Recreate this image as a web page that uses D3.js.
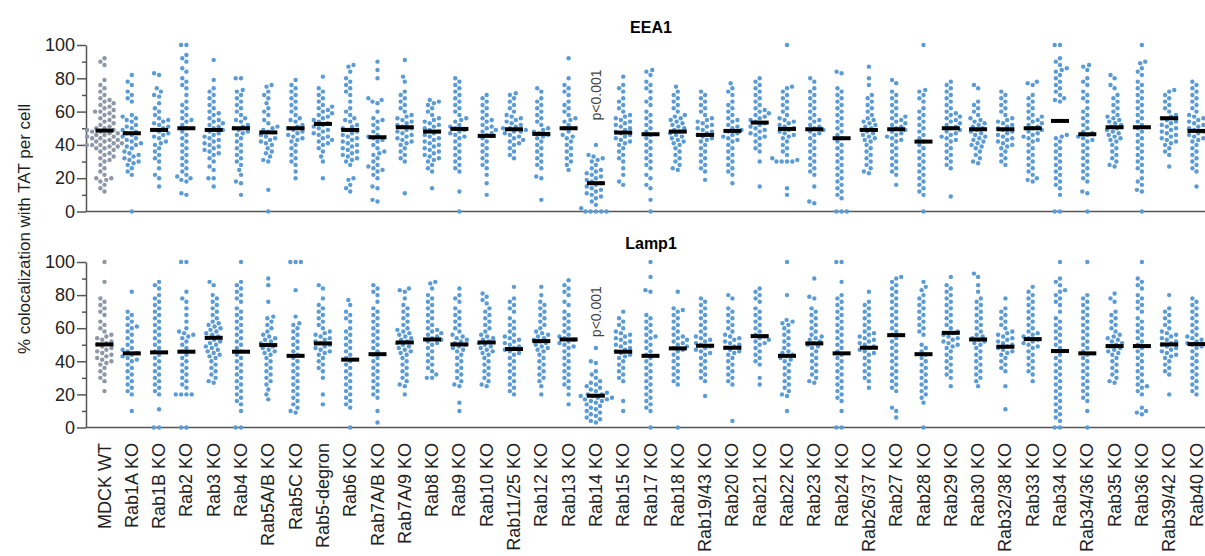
<!doctype html>
<html>
<head>
<meta charset="utf-8">
<script src="https://cdn.jsdelivr.net/npm/d3@7"></script>
<style>
  body { margin: 0; background: #fff; }
  text { font-family: Arial, "Liberation Sans", sans-serif; }
</style>
</head>
<body>
<svg id="chart" width="1205" height="556"></svg>
<script>
// categories along the x axis
var categories = ["MDCK WT","Rab1A KO","Rab1B KO","Rab2 KO","Rab3 KO","Rab4 KO","Rab5A/B KO","Rab5C KO","Rab5-degron","Rab6 KO",
  "Rab7A/B KO","Rab7A/9 KO","Rab8 KO","Rab9 KO","Rab10 KO","Rab11/25 KO","Rab12 KO","Rab13 KO","Rab14 KO","Rab15 KO",
  "Rab17 KO","Rab18 KO","Rab19/43 KO","Rab20 KO","Rab21 KO","Rab22 KO","Rab23 KO","Rab24 KO","Rab26/37 KO","Rab27 KO",
  "Rab28 KO","Rab29 KO","Rab30 KO","Rab32/38 KO","Rab33 KO","Rab34 KO","Rab34/36 KO","Rab35 KO","Rab36 KO","Rab39/42 KO","Rab40 KO"];

// EEA1 panel, % colocalization per cell
var eea1Values = [
  [92,90,88,79,76,74,72,70,68,67,66,65,64,63,62,61,60,60,59,58,57,56,55,54,53,52,51,50,50,49,49,48,48,47,47,46,46,45,45,44,44,43,43,42,42,41,41,40,40,40,39,39,38,38,37,36,35,34,33,32,31,30,28,26,24,22,20,20,19,18,16,14,12],
  [82,78,76,72,70,68,66,58,57,56,55,54,52,51,50,49,48,47,46,45,44,43,42,41,40,39,38,36,35,34,33,32,31,30,29,28,26,24,22,0],
  [83,82,74,72,70,69,65,62,60,58,56,55,54,53,52,51,50,49,48,47,46,45,44,42,41,40,38,36,34,32,30,26,22,20,15],
  [100,100,94,92,90,86,84,80,78,76,74,70,66,64,62,60,58,56,55,54,52,50,48,46,44,42,40,38,36,34,32,30,28,26,24,22,21,20,19,18,11,10],
  [91,79,74,72,70,68,66,64,62,60,59,58,56,55,54,53,52,51,50,49,48,47,46,45,44,43,42,41,40,39,38,37,36,35,34,32,30,27,25,20,20,15],
  [80,80,73,72,70,68,66,64,62,60,58,56,55,54,52,51,50,49,48,47,46,44,42,40,38,36,34,32,30,28,25,22,18,17,10],
  [76,75,72,70,68,65,62,60,58,55,53,51,50,49,48,46,45,44,43,42,41,40,38,36,35,33,31,30,13,0],
  [79,76,74,72,70,68,66,64,62,60,58,56,55,54,52,51,50,49,48,47,46,45,44,43,42,40,38,36,34,32,30,28,24,20],
  [81,74,72,70,68,66,64,63,62,61,60,59,58,57,56,55,54,53,52,51,50,49,48,47,46,45,44,43,42,41,40,38,36,33,30,20],
  [88,87,84,80,78,76,74,72,70,66,62,60,58,56,55,54,52,51,50,49,48,47,46,45,44,43,42,41,40,39,38,37,36,35,34,33,32,31,30,28,20,19,16,14,12],
  [90,85,80,68,67,66,65,60,56,55,54,52,50,48,46,45,44,43,42,40,38,36,35,34,32,30,28,27,26,25,24,22,20,15,14,7,6],
  [91,81,78,72,70,68,66,64,62,60,58,57,56,55,54,53,52,51,50,49,48,47,46,45,44,43,42,41,40,38,36,34,32,30,11],
  [67,66,65,64,62,60,58,56,55,54,53,52,51,50,49,48,47,46,45,44,43,42,41,40,39,38,37,36,35,34,33,32,31,30,28,26,24,14],
  [80,78,76,74,72,70,68,66,64,62,60,58,56,55,54,52,51,50,49,48,47,46,45,44,42,40,38,36,34,32,30,28,26,24,12,0],
  [70,68,66,64,62,60,58,56,55,54,52,51,50,49,48,47,46,44,42,40,38,36,34,32,30,28,26,22,17,10],
  [71,70,68,66,64,62,60,58,57,56,55,54,53,52,51,50,50,49,48,48,47,46,45,44,43,42,41,40,38,36,34,32],
  [74,72,68,66,64,62,60,58,56,54,52,50,49,48,47,46,45,44,42,40,38,36,34,32,30,28,26,21,20,7],
  [92,80,76,74,72,70,66,64,62,60,58,56,55,54,52,50,48,46,45,44,42,40,38,36,34,32,30,28,25],
  [40,34,33,32,31,30,28,26,25,24,23,22,21,20,19,18,17,16,15,14,13,12,11,10,9,8,6,4,2,0,0,0,0,0],
  [81,76,74,72,68,66,64,62,60,58,57,56,55,54,53,52,51,50,49,48,47,46,45,44,43,42,41,40,38,36,34,32,30,26,22,18,16],
  [85,84,82,78,76,74,72,68,66,64,60,58,56,54,52,50,48,46,44,42,40,38,36,34,32,30,28,26,22,20,16,14,7,0],
  [75,72,70,68,66,64,62,60,58,57,56,55,54,53,52,51,50,49,48,47,46,45,44,43,42,41,40,38,36,34,32,30,28,26,25],
  [72,70,68,66,64,62,60,58,56,55,54,53,52,51,50,49,48,47,46,45,44,43,42,40,38,36,34,32,30,28,26,24,19],
  [77,74,72,70,66,64,62,60,58,56,55,54,52,51,50,49,48,47,46,45,44,43,42,40,38,36,34,32,30,28,26,24,22,17],
  [80,78,76,74,72,70,68,66,64,62,61,60,59,58,57,56,55,54,53,52,51,50,49,48,47,46,45,44,42,40,38,36,30,15],
  [100,75,74,72,70,68,66,64,62,60,58,56,55,54,53,52,51,50,49,48,47,46,45,44,42,40,38,36,34,32,31,30,30,30,30,14,10],
  [80,78,74,72,70,68,66,64,62,60,58,56,55,54,52,51,50,49,48,47,46,44,42,40,38,36,34,32,30,28,26,24,22,15,6,5],
  [84,83,74,72,70,68,66,64,62,60,58,56,54,52,50,48,46,44,42,40,38,36,34,32,30,28,26,24,22,20,18,16,14,12,10,8,0,0,0],
  [87,80,76,70,68,66,64,62,60,58,56,55,54,53,52,51,50,49,48,47,46,45,44,43,42,40,38,36,34,32,30,28,26,24,23],
  [79,77,72,70,68,66,64,62,60,58,57,56,55,54,53,52,51,50,49,48,47,46,45,44,43,42,40,38,36,34,32,30,28,26,24,22,16],
  [100,73,72,70,68,66,62,60,58,56,54,52,50,48,46,44,42,40,38,36,34,32,30,28,26,24,22,20,18,16,14,12,10,0],
  [78,76,74,72,70,68,66,64,62,60,59,58,57,56,55,54,53,52,51,50,49,48,47,46,45,44,43,42,40,38,36,34,32,30,28,26,9],
  [76,74,66,64,62,60,58,56,55,54,53,52,51,50,49,48,47,46,45,44,43,42,41,40,39,38,36,34,32,30,29],
  [72,70,68,66,64,62,60,58,56,55,54,53,52,51,50,49,48,47,46,45,44,43,42,41,40,39,38,36,34,32,30,28],
  [78,77,76,70,68,66,64,62,60,58,57,56,55,54,53,52,51,50,49,48,47,46,45,44,43,42,40,38,36,34,32,30,28,26,24,22,20,19,18],
  [100,100,92,90,88,86,85,84,82,80,78,76,74,72,70,68,67,66,46,45,44,42,40,38,36,34,32,30,28,26,24,22,20,18,16,14,10,0,0],
  [88,87,85,80,78,76,72,70,68,66,62,60,58,56,54,52,50,48,47,46,45,44,43,42,40,38,36,34,32,30,28,26,24,22,20,18,12,11,0],
  [82,80,76,74,70,68,66,64,62,60,58,57,56,55,54,53,52,51,50,49,48,47,46,45,44,43,42,40,38,36,34,32,30,28,27],
  [100,90,89,86,84,82,78,76,74,72,70,68,66,64,62,60,58,56,54,52,50,48,46,44,42,40,38,36,34,32,30,28,26,24,20,18,16,13,12,0],
  [73,72,70,68,66,64,62,60,58,57,56,55,54,53,52,51,50,49,48,47,46,45,44,43,42,41,40,38,36,34,27],
  [78,76,74,72,70,68,66,64,62,60,58,57,56,55,54,53,52,51,50,49,48,47,46,45,44,43,42,40,38,36,34,32,30,28,26,24,15]
];
var eea1Medians = [48.6,47,49,50,49,50,47.5,50,52.6,49,44.6,50.6,48,49.6,45.4,49.4,46.6,50,17,47.4,46.4,48,46,48.4,53.4,49.6,49.4,44,49,49.4,
  42,50,49.4,49.4,50,54.4,46.4,50.6,50.6,56,48.4];

// Lamp1 panel
var lamp1Values = [
  [100,88,78,76,74,72,70,68,64,62,60,58,56,55,54,53,52,51,50,49,48,47,46,45,44,43,42,41,40,39,38,36,34,32,30,28,22],
  [82,70,68,66,64,62,61,60,58,56,54,52,50,48,47,46,45,44,43,42,41,40,38,36,34,32,30,28,26,24,22,20,10],
  [88,86,84,80,78,76,74,72,70,68,66,64,62,60,58,56,54,52,50,48,46,44,42,40,38,36,34,32,30,28,26,24,22,20,11,0,0],
  [100,100,82,78,76,72,68,64,60,58,57,56,55,54,52,50,48,46,44,42,40,38,36,34,32,30,28,26,24,20,20,20,20,0,0],
  [88,86,80,78,76,74,72,70,68,66,64,63,62,61,60,59,58,57,56,55,54,53,52,51,50,49,48,47,46,45,44,43,42,40,38,36,34,32,30,28,27],
  [100,88,86,84,82,80,78,76,72,70,68,66,64,62,60,58,56,54,52,50,48,46,44,42,40,38,36,34,32,30,28,26,24,22,20,18,16,14,10,0,0],
  [90,86,76,67,66,64,62,60,58,56,55,54,53,52,51,50,49,48,47,46,45,44,42,40,38,36,34,32,30,28,26,23,20,17],
  [100,100,100,83,67,63,62,60,58,56,54,52,50,48,46,44,42,40,38,36,34,32,30,28,26,24,22,20,18,16,14,12,10,9],
  [86,84,78,74,72,70,68,66,64,62,60,58,57,56,55,54,53,52,51,50,49,48,47,46,45,44,42,40,38,36,34,30,20,14],
  [77,74,70,68,66,64,60,58,56,54,52,50,48,46,44,42,40,38,36,34,32,30,28,26,24,22,20,18,16,14,12,0],
  [86,84,82,80,76,72,70,68,66,64,62,60,58,56,54,52,50,48,46,44,42,40,38,36,34,32,30,28,26,24,22,20,18,10,3],
  [84,83,82,78,74,72,70,68,66,64,62,60,59,58,57,56,55,54,53,52,51,50,49,48,47,46,45,44,42,40,38,36,34,32,30,28,26,25,20],
  [88,87,84,80,78,76,74,72,70,68,66,64,62,60,59,58,57,56,55,54,53,52,51,50,48,46,44,42,40,38,36,34,32,30,30],
  [84,80,78,76,72,70,68,66,64,62,60,58,56,55,54,53,52,51,50,49,48,47,46,44,42,40,38,36,34,32,30,28,26,25,15,10],
  [81,79,77,75,72,70,68,66,64,62,60,58,56,55,54,53,52,51,50,49,48,47,46,45,44,42,40,38,36,34,32,30,28,26,25],
  [85,78,76,74,72,70,66,64,62,60,58,56,55,54,53,52,51,50,49,48,47,46,45,44,42,40,38,36,34,32,30,28,26,24,22,20],
  [85,80,76,74,72,70,68,66,64,62,60,58,57,56,55,54,53,52,51,50,49,48,47,46,44,42,40,38,36,34,32,30,28,25,20],
  [89,86,84,82,80,76,74,70,68,66,64,62,60,58,56,55,54,53,52,51,50,49,48,46,44,42,40,38,36,34,32,30,28,26,24,20,14],
  [48,40,39,34,32,30,28,27,26,25,24,23,22,21,20,20,19,19,18,18,17,17,16,16,15,14,13,12,11,10,9,8,7,6,5,4,3],
  [70,66,64,62,60,58,57,56,55,54,53,52,51,50,49,48,47,46,45,44,43,42,40,38,36,34,32,30,28,16,10],
  [100,91,83,82,68,66,64,62,60,58,56,55,54,52,50,48,46,44,42,40,38,36,34,32,30,28,26,24,22,20,18,16,14,12,10,0],
  [82,72,71,70,68,66,64,62,60,58,56,55,54,53,52,51,50,49,48,47,46,44,42,40,38,36,34,32,30,28,26,0],
  [78,76,74,72,70,68,66,64,62,60,58,56,55,54,53,52,51,50,49,48,47,46,45,44,42,40,38,36,34,32,30,28,19],
  [80,78,72,70,68,66,64,62,60,58,56,55,54,53,52,51,50,49,48,47,46,45,44,42,40,38,36,34,32,30,28,26,4],
  [84,82,80,78,76,72,70,68,66,64,62,60,58,56,55,54,53,52,51,50,48,46,44,42,40,38,30,26],
  [100,80,65,64,63,62,60,58,56,54,52,50,48,46,45,44,43,42,41,40,38,36,34,32,30,28,26,24,22,20,19,10],
  [90,79,78,72,70,68,66,64,62,60,58,56,55,54,53,52,51,50,49,48,46,44,42,40,38,36,34,32,30,28,27],
  [100,100,88,80,78,76,74,72,70,68,66,64,62,60,58,56,54,52,50,48,46,44,42,40,38,36,34,32,30,28,26,24,22,20,18,16,10,0,0],
  [82,76,74,72,70,68,66,64,62,60,58,57,56,55,54,53,52,51,50,49,48,47,46,45,44,42,40,38,36,34,32,30,28,24],
  [91,90,88,86,84,82,80,78,76,74,72,70,68,66,64,62,60,58,56,54,52,50,48,46,44,42,40,38,36,34,32,30,28,26,24,22,12,10,6],
  [88,85,83,80,78,76,74,72,70,68,66,64,62,60,58,56,50,48,46,44,42,40,38,36,34,32,30,28,26,24,22,20,18,15,0],
  [91,86,84,82,80,78,76,74,72,70,68,66,64,62,60,58,57,56,55,54,53,52,51,50,49,48,46,44,42,40,38,36,34,32,30,25],
  [93,91,86,82,78,76,74,72,70,68,66,64,62,60,58,56,55,54,53,52,51,50,48,46,44,42,40,38,36,34,32,30,28,25],
  [78,72,70,68,66,64,62,60,58,57,56,55,54,53,52,51,50,49,48,47,46,45,44,42,40,38,36,34,25,11],
  [85,82,80,78,76,74,72,70,68,66,64,62,60,58,57,56,55,54,53,52,51,50,49,48,46,44,42,40,38,36,34,32,28],
  [100,90,88,86,83,82,80,78,76,74,70,66,64,62,60,58,56,54,52,50,48,46,44,42,40,38,36,34,32,30,28,26,24,22,20,18,16,14,12,10,8,6,4,0,0],
  [100,80,78,76,74,72,70,68,66,64,62,60,58,56,54,52,50,48,46,44,42,40,38,36,34,32,30,28,26,24,22,20,18,16,10,0],
  [81,78,76,70,68,66,64,62,60,58,56,55,54,53,52,51,50,49,48,47,46,45,44,42,40,38,36,34,32,30,28,27],
  [100,90,88,86,84,80,78,76,74,72,70,66,64,62,60,58,56,54,52,50,48,46,44,42,40,38,36,34,32,30,28,26,25,24,22,20,12,10,9,8],
  [80,72,70,68,66,64,62,60,58,57,56,55,54,53,52,51,50,49,48,47,46,45,44,43,42,40,38,36,34,32,20],
  [78,76,74,72,70,68,66,64,62,60,58,56,55,54,53,52,51,50,49,48,46,44,42,40,38,36,34,32,30,28,26,24,22,20]
];
var lamp1Medians = [50.2,44.8,45.4,45.8,54.2,45.8,49.8,43.3,50.8,41,44.3,51.4,53.2,50.2,51.4,47.4,52.2,53.2,19.2,45.8,43.3,47.8,49.4,48.2,55.2,43.3,50.8,44.8,48.2,55.8,
  44.3,57.2,53.2,48.8,53.4,46.2,44.8,49.2,49.2,50.2,50.4];

var panelTitles = ["EEA1", "Lamp1"];
var yMajorTicks = [0, 20, 40, 60, 80, 100];
var yMinorTicks = [10, 30, 50, 70, 90];
var pLabel = "p<0.001";
var pCategory = "Rab14 KO";

var svg = d3.select("#chart");
var axisX = 86;
var dotR = 2.2;
var dotGap = 5.3;
var blue = "#5b9bd5";
var gray = "#8e97a8";

var x = d3.scalePoint().domain(categories).range([104.5, 1196.5]);

var panels = [
  { title: panelTitles[0], values: eea1Values, medians: eea1Medians, y: d3.scaleLinear().domain([0, 100]).range([211.5, 45]), titleY: 33 },
  { title: panelTitles[1], values: lamp1Values, medians: lamp1Medians, y: d3.scaleLinear().domain([0, 100]).range([427.5, 262]), titleY: 249 }
];

// simple beeswarm: each point takes the smallest horizontal offset that does not overlap
function swarm(vals, y) {
  var pts = vals.slice().sort(function(a, b) { return a - b; })
    .map(function(v) { return { v: v, y: y(v), x: 0 }; });
  var placed = [];
  pts.forEach(function(p) {
    var blocked = [];
    placed.forEach(function(q) {
      var dy = Math.abs(q.y - p.y);
      if (dy < dotGap) {
        var w = Math.sqrt(dotGap * dotGap - dy * dy);
        blocked.push([q.x - w, q.x + w]);
      }
    });
    var cands = [0];
    blocked.forEach(function(b) { cands.push(b[0], b[1]); });
    cands.sort(function(a, b) { return Math.abs(a) - Math.abs(b) || a - b; });
    for (var i = 0; i < cands.length; i++) {
      var c = cands[i];
      var ok = blocked.every(function(b) { return c <= b[0] + 1e-6 || c >= b[1] - 1e-6; });
      if (ok) { p.x = c; break; }
    }
    placed.push(p);
  });
  return pts;
}

panels.forEach(function(panel) {
  var g = svg.append("g");
  var y = panel.y;

  // y axis with major and minor ticks
  var yAxis = g.append("g").attr("transform", "translate(" + axisX + ",0)")
    .call(d3.axisLeft(y).tickValues(yMajorTicks).tickSize(9).tickSizeOuter(0).tickPadding(2));
  yAxis.selectAll("text").style("font-size", "18px").attr("fill", "#222");
  yAxis.select(".domain").attr("stroke", "#555").attr("stroke-width", 1.5);
  yAxis.selectAll(".tick line").attr("stroke", "#555").attr("stroke-width", 1.5);

  var yMinor = g.append("g").attr("transform", "translate(" + axisX + ",0)")
    .call(d3.axisLeft(y).tickValues(yMinorTicks).tickSize(4).tickFormat(""));
  yMinor.select(".domain").remove();
  yMinor.selectAll(".tick line").attr("stroke", "#555").attr("stroke-width", 1.5);

  // x baseline
  g.append("line")
    .attr("x1", axisX).attr("x2", 1205)
    .attr("y1", y(0)).attr("y2", y(0))
    .attr("stroke", "#555").attr("stroke-width", 1.5);

  // dots
  categories.forEach(function(cat, i) {
    var pts = swarm(panel.values[i], y);
    g.append("g").selectAll("circle").data(pts).enter().append("circle")
      .attr("cx", function(d) { return x(cat) + d.x; })
      .attr("cy", function(d) { return d.y; })
      .attr("r", dotR)
      .attr("fill", i === 0 ? gray : blue);
  });

  // median bars
  g.append("g").selectAll("rect").data(panel.medians).enter().append("rect")
    .attr("x", function(d, i) { return x(categories[i]) - 9; })
    .attr("y", function(d) { return y(d) - 2; })
    .attr("width", 18).attr("height", 4)
    .attr("fill", "#000");

  // panel title
  g.append("text")
    .attr("x", 651).attr("y", panel.titleY)
    .attr("text-anchor", "middle")
    .style("font-size", "16px").style("font-weight", "bold")
    .text(panel.title);

  // significance note
  g.append("text")
    .attr("transform", "translate(" + (x(pCategory) + 5) + "," + y(70) + ") rotate(-90)")
    .attr("text-anchor", "middle")
    .attr("fill", "#444")
    .style("font-size", "14px")
    .text(pLabel);
});

// category labels under the lower panel
svg.append("g").selectAll("text").data(categories).enter().append("text")
  .attr("transform", function(d) { return "translate(" + (x(d) + 6) + ",443) rotate(-90)"; })
  .attr("text-anchor", "end")
  .attr("fill", "#222")
  .style("font-size", "18px")
  .text(function(d) { return d; });

// y axis title
svg.append("text")
  .attr("transform", "translate(30,229) rotate(-90)")
  .attr("text-anchor", "middle")
  .attr("fill", "#222")
  .style("font-size", "17px")
  .text("% colocalization with TAT per cell");
</script>
</body>
</html>
